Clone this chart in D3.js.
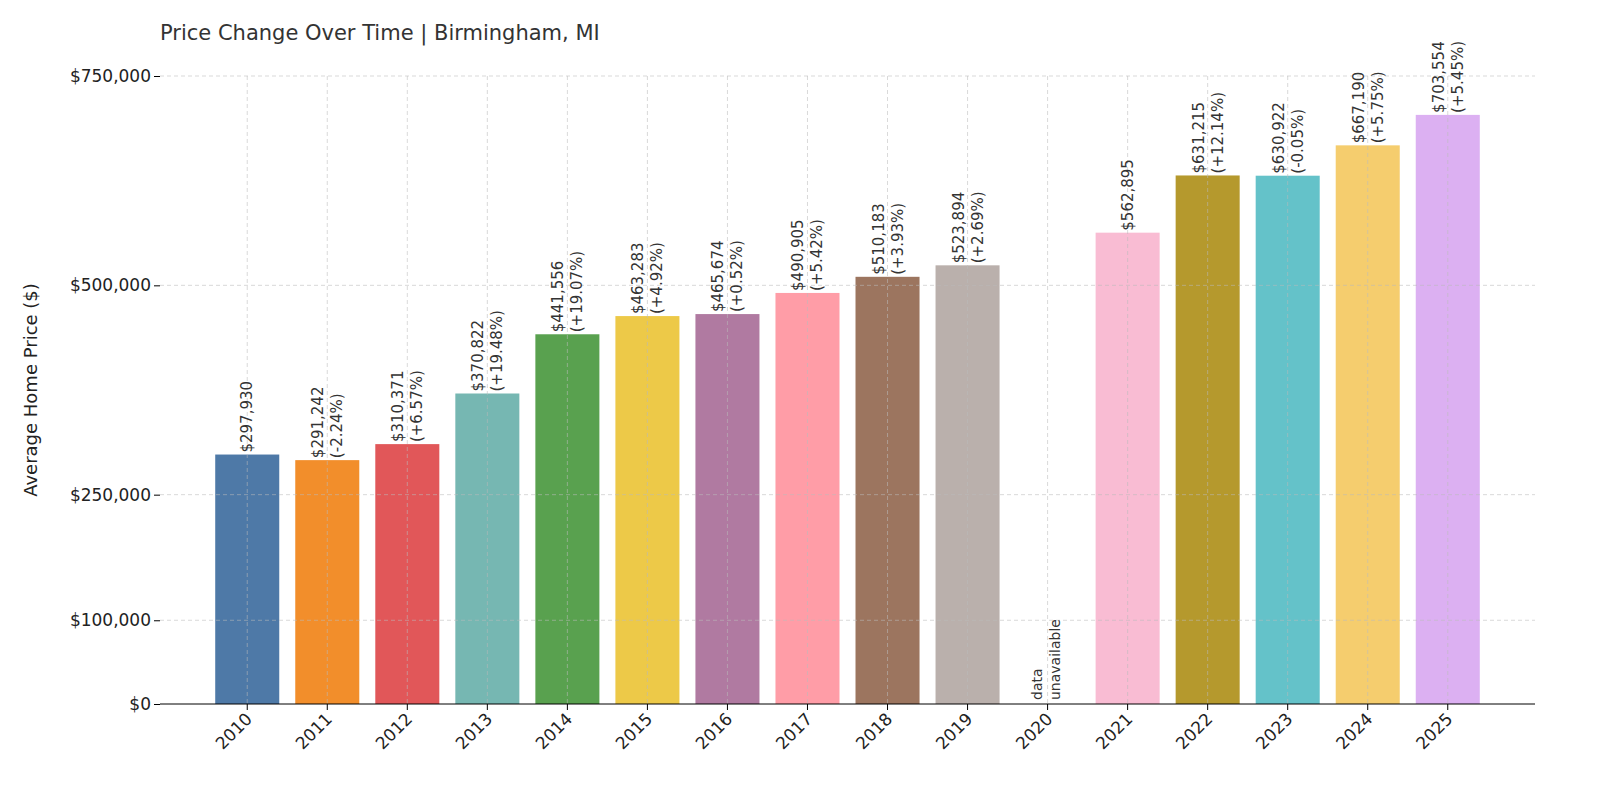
<!DOCTYPE html>
<html><head><meta charset="utf-8">
<script src="https://cdn.jsdelivr.net/npm/d3@7"></script>
<style>html,body{margin:0;padding:0;overflow:hidden;background:#fff;font-family:"DejaVu Sans",sans-serif}svg{display:block}</style>
</head><body><svg id="c" width="1600" height="800"></svg>
<script>
const years=["2010","2011","2012","2013","2014","2015","2016","2017","2018","2019","2020","2021","2022","2023","2024","2025"];
const prices=[297930,291242,310371,370822,441556,463283,465674,490905,510183,523894,null,562895,631215,630922,667190,703554];
const pcts=[null,"-2.24%","+6.57%","+19.48%","+19.07%","+4.92%","+0.52%","+5.42%","+3.93%","+2.69%",null,null,"+12.14%","-0.05%","+5.75%","+5.45%"];
const colors=["#4e79a7","#f28e2b","#e15759","#76b7b2","#59a14f","#edc948","#b07aa1","#ff9da7","#9c755f","#bab0ac","#cccccc","#f9bcd3","#b5992d","#64c2c9","#f5cd6e","#dcb0f2"];
const yTicks=[0,100000,250000,500000,750000];
const svg=d3.select("#c");
const L=160,R=1535,T=76,B=704;
const x=d3.scaleBand().domain(years).range([L,R]).paddingInner(0.2).paddingOuter(0.69);
const y=d3.scaleLinear().domain([0,750000]).range([B,T]);
const g=svg.append("g");
const data=years.map((yr,i)=>({yr,p:prices[i],pc:pcts[i],c:colors[i]}));
g.selectAll("rect").data(data.filter(d=>d.p!=null)).join("rect").attr("x",d=>x(d.yr)).attr("width",x.bandwidth()).attr("y",d=>y(d.p)).attr("height",d=>B-y(d.p)).attr("fill",d=>d.c);
g.selectAll(".hg").data(yTicks.slice(1)).join("line").attr("x1",L).attr("x2",R).attr("y1",d=>y(d)).attr("y2",d=>y(d)).attr("stroke","#bbb").attr("stroke-opacity",0.7).attr("stroke-dasharray","4,3").attr("stroke-width",0.8);
g.selectAll(".vg").data(years).join("line").attr("x1",d=>x(d)+x.bandwidth()/2).attr("x2",d=>x(d)+x.bandwidth()/2).attr("y1",T).attr("y2",B).attr("stroke","#bbb").attr("stroke-opacity",0.7).attr("stroke-dasharray","4,3").attr("stroke-width",0.8);
const fmt=d3.format(",");
data.forEach(d=>{
  const cx=x(d.yr)+x.bandwidth()/2;
  if(d.p==null){
    const t=g.append("text").attr("transform",`translate(${cx},${B-4}) rotate(-90)`).attr("font-size",14).attr("fill","#333");
    t.append("tspan").attr("x",0).attr("y",-6).text("data");
    t.append("tspan").attr("x",0).attr("y",12).text("unavailable");
    return;
  }
  const t=g.append("text").attr("transform",`translate(${cx},${y(d.p)-2}) rotate(-90)`).attr("font-size",15).attr("fill","#333");
  if(d.pc){
    t.append("tspan").attr("x",0).attr("y",-4).text("$"+fmt(d.p));
    t.append("tspan").attr("x",0).attr("y",15).text("("+d.pc+")");
  } else t.append("tspan").attr("x",0).attr("y",5).text("$"+fmt(d.p));
});
const ya=svg.append("g").attr("transform",`translate(${L},0)`).call(d3.axisLeft(y).tickValues(yTicks).tickFormat(d=>"$"+fmt(d)).tickSize(6));
ya.select(".domain").remove();
ya.selectAll("text").attr("font-size",17).attr("fill","#222").attr("font-family","DejaVu Sans");
const xa=svg.append("g").attr("transform",`translate(0,${B})`).call(d3.axisBottom(x).tickSize(6));
xa.select(".domain").attr("d",`M${L},0H${R}`);
xa.selectAll("text").attr("font-size",17).attr("fill","#222").attr("font-family","DejaVu Sans").attr("text-anchor","end").attr("dy",0).attr("y",0).attr("transform","translate(6,16) rotate(-45)");
svg.append("text").attr("x",160).attr("y",40).attr("font-size",21).attr("fill","#333").text("Price Change Over Time | Birmingham, MI");
svg.append("text").attr("transform","translate(37,390) rotate(-90)").attr("text-anchor","middle").attr("font-size",18).attr("fill","#222").text("Average Home Price ($)");
</script></body></html>
